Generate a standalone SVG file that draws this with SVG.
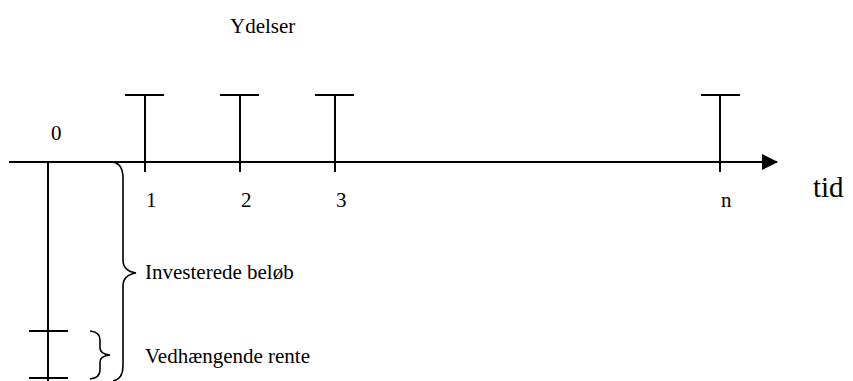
<svg xmlns="http://www.w3.org/2000/svg" width="853" height="381" viewBox="0 0 853 381">
<style>
text{font-family:"Liberation Serif","Times New Roman","DejaVu Serif",serif;fill:#000;font-size:21px}
.ln{stroke:#000;stroke-width:2;fill:none}
.br{stroke:#000;stroke-width:1.6;fill:none}
</style>
<defs>
<marker id="ah" markerWidth="16" markerHeight="16" refX="15" refY="8" orient="auto" markerUnits="userSpaceOnUse">
<path d="M0,0 L16,8 L0,16 Z" fill="#000"/>
</marker>
</defs>
<rect width="853" height="381" fill="#fff"/>
<g id="connectors">
<line id="axis" class="ln" x1="9" y1="162" x2="777" y2="162" marker-end="url(#ah)"/>
</g>
<g id="title"><text x="230" y="33" font-family="Liberation Serif, serif">Ydelser</text></g>
<g id="t0">
<text x="51" y="140" font-family="Liberation Serif, serif">0</text>
<line class="ln" x1="48" y1="162" x2="48" y2="381"/>
<line class="ln" x1="29" y1="331" x2="68" y2="331"/>
<line class="ln" x1="29" y1="378" x2="68" y2="378"/>
</g>
<g id="t1">
<line class="ln" x1="145" y1="95" x2="145" y2="172"/>
<line class="ln" x1="125" y1="95" x2="164" y2="95"/>
<text x="146" y="207" font-family="Liberation Serif, serif">1</text>
</g>
<g id="t2">
<line class="ln" x1="240" y1="95" x2="240" y2="172"/>
<line class="ln" x1="220" y1="95" x2="259" y2="95"/>
<text x="241" y="207" font-family="Liberation Serif, serif">2</text>
</g>
<g id="t3">
<line class="ln" x1="335" y1="95" x2="335" y2="172"/>
<line class="ln" x1="315" y1="95" x2="354" y2="95"/>
<text x="336" y="207" font-family="Liberation Serif, serif">3</text>
</g>
<g id="tn">
<line class="ln" x1="720" y1="95" x2="720" y2="172"/>
<line class="ln" x1="701" y1="95" x2="740" y2="95"/>
<text x="721" y="207" font-family="Liberation Serif, serif">n</text>
</g>
<g id="tid"><text x="813" y="197" font-family="Liberation Serif, serif" style="font-size:29px">tid</text></g>
<g id="investeret">
<path class="br" d="M113,162 Q123,164 123,178 L123,260 Q123,271 136,273 Q123,275 123,286 L123,366 Q123,379 113,381"/>
<text x="145" y="279" font-family="Liberation Serif, serif">Investerede beløb</text>
</g>
<g id="rente">
<path class="br" d="M90,331 Q100,332 100,340 L100,348 Q100,354 110,355 Q100,356 100,362 L100,370 Q100,378 90,379"/>
<text x="145" y="363" font-family="Liberation Serif, serif">Vedhængende rente</text>
</g>
</svg>
